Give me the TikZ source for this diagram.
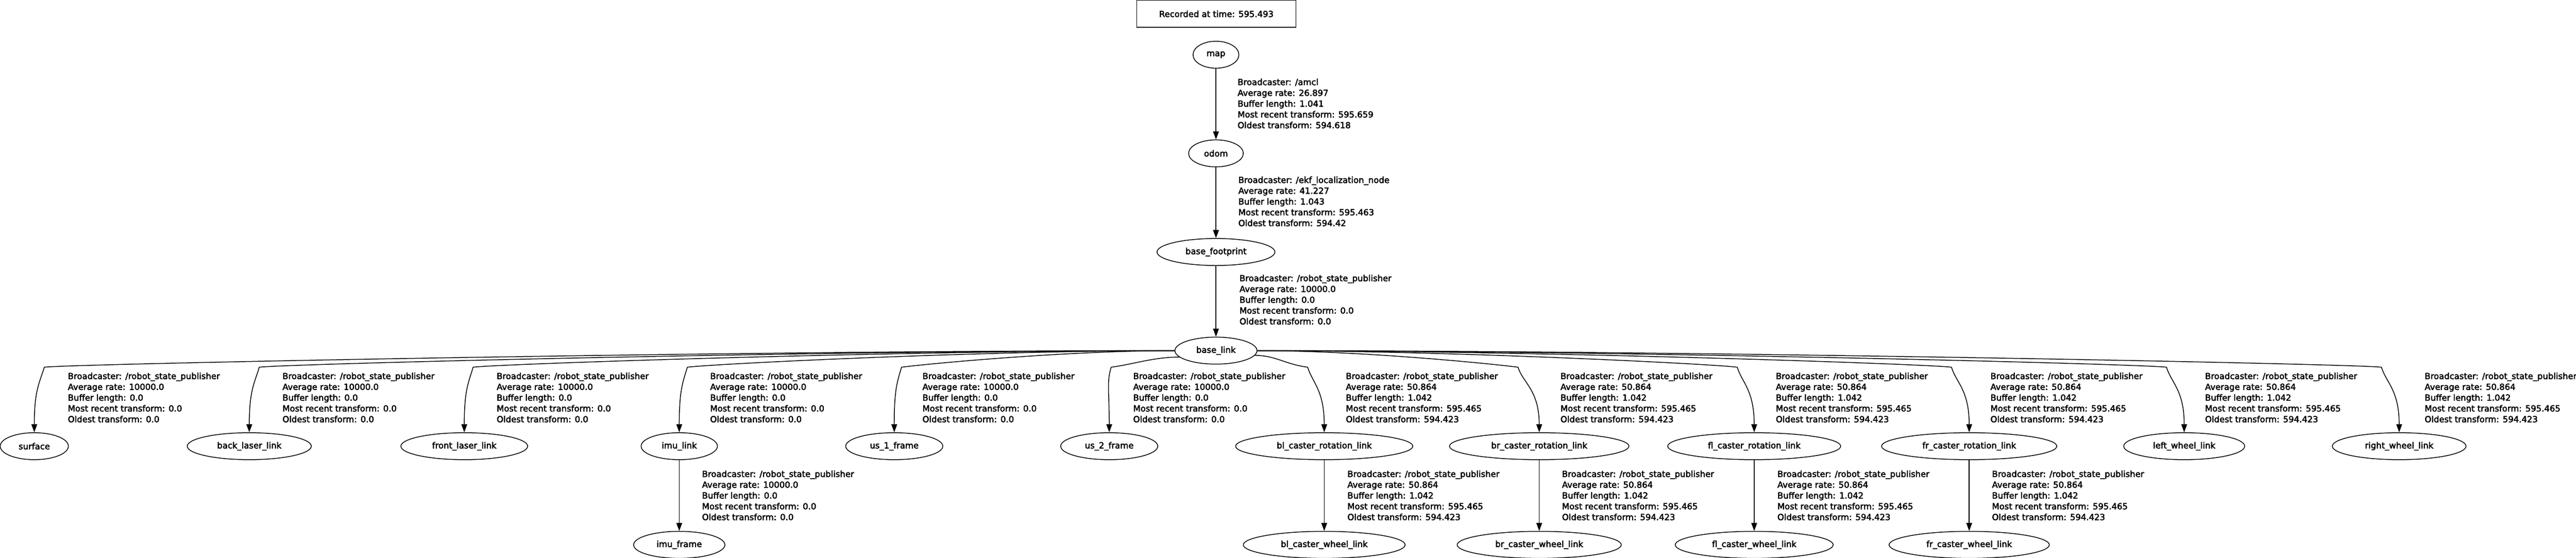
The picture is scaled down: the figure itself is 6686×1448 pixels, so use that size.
\documentclass[tikz,border=0pt]{standalone}
\usepackage{fontspec}
\setmainfont{DejaVu Sans}
\newfontfamily\graphfont[FakeBold=3]{DejaVu Sans}
\usetikzlibrary{shapes.geometric,arrows.meta,positioning}

\tikzset{
  frame/.style={draw, ellipse, line width=2pt, minimum height=70pt, inner sep=0pt},
  edge/.style={line width=2pt, -{Triangle[length=21pt,width=15pt]}},
  info/.style={anchor=north west, align=left, inner sep=0pt},
}
\newcommand{\tfinfo}[5]{Broadcaster: #1\\Average rate: #2\\Buffer length: #3\\Most recent transform: #4\\Oldest transform: #5}

\begin{document}
\begin{tikzpicture}[x=1pt,y=-1pt,every node/.style={font=\graphfont\fontsize{22pt}{28pt}\selectfont}]
\useasboundingbox (0,0) rectangle (6686,1448);

\node[draw, line width=2pt, minimum width=413pt, minimum height=70pt] (stamp) at (3157,36) {Recorded at time: 595.493};

% chain from map down to base_link
\node[frame, minimum width=119pt] (map) at (3156,142) {map};
\node[frame, minimum width=142pt, below=184pt of map] (odom) {odom};
\node[frame, minimum width=306pt, below=184pt of odom] (base_footprint) {base\_footprint};
\node[frame, minimum width=213pt, below=184pt of base_footprint] (base_link) {base\_link};

\draw[edge] (map) -- (odom);
\draw[edge] (odom) -- (base_footprint);
\draw[edge] (base_footprint) -- (base_link);

\node[info] (info_odom) at (3212,204) {\tfinfo{/amcl}{26.897}{1.041}{595.659}{594.618}};
\node[info] (info_footprint) at (3214,458) {\tfinfo{/ekf\_localization\_node}{41.227}{1.043}{595.463}{594.42}};
\node[info] (info_baselink) at (3217,713) {\tfinfo{/robot\_state\_publisher}{10000.0}{0.0}{0.0}{0.0}};

% children of base_link
\foreach \id/\txt/\i/\w in {surface/surface/0/177, backlaser/back\_laser\_link/1/322,
    frontlaser/front\_laser\_link/2/329, imulink/imu\_link/3/198, usone/us\_1\_frame/4/252,
    ustwo/us\_2\_frame/5/252, blrot/bl\_caster\_rotation\_link/6/460,
    brrot/br\_caster\_rotation\_link/7/466, flrot/fl\_caster\_rotation\_link/8/449,
    frrot/fr\_caster\_rotation\_link/9/455, leftwheel/left\_wheel\_link/10/314,
    rightwheel/right\_wheel\_link/11/347}
  \node[frame, minimum width=\w pt] (\id) at ({89+558*\i},1158) {\txt};

\foreach \tgt/\from/\sx/\bx in {surface/west/3050/115, backlaser/west/3050/673,
    frontlaser/west/3050/1228, imulink/west/3050/1784, usone/west/3050/2340,
    ustwo/190/3052/2884, blrot/-7/3259/3394, brrot/east/3263/3940, flrot/east/3263/4509,
    frrot/east/3263/5065, leftwheel/east/3263/5623, rightwheel/east/3263/6181}
  \draw[edge] (base_link.\from) .. controls +({0.4*(\bx-\sx)},0) and +({60*sign(\sx-\bx)},-8) .. (\bx,953)
    .. controls +({-12*sign(\sx-\bx)},40) and +(0,-110) .. (\tgt.north);

\foreach \id/\lx in {surface/176, backlaser/733, frontlaser/1289, imulink/1843, usone/2394, ustwo/2941}
  \node[info] (info_\id) at (\lx,967) {\tfinfo{/robot\_state\_publisher}{10000.0}{0.0}{0.0}{0.0}};
\foreach \id/\lx in {blrot/3493, brrot/4050, flrot/4609, frrot/5166, leftwheel/5723, rightwheel/6293}
  \node[info] (info_\id) at (\lx,967) {\tfinfo{/robot\_state\_publisher}{50.864}{1.042}{595.465}{594.423}};

% third row
\node[frame, minimum width=237pt, below=184pt of imulink] (imuframe) {imu\_frame};
\foreach \id/\up/\txt/\w in {blwheel/blrot/bl\_caster\_wheel\_link/420, brwheel/brrot/br\_caster\_wheel\_link/426,
    flwheel/flrot/fl\_caster\_wheel\_link/410, frwheel/frrot/fr\_caster\_wheel\_link/416}
  \node[frame, minimum width=\w pt, below=184pt of \up] (\id) {\txt};

\draw[edge] (imulink) -- (imuframe);
\foreach \up/\dn in {blrot/blwheel, brrot/brwheel, flrot/flwheel, frrot/frwheel}
  \draw[edge] (\up) -- (\dn);

\node[info] (info_imuframe) at (1822,1221) {\tfinfo{/robot\_state\_publisher}{10000.0}{0.0}{0.0}{0.0}};
\foreach \id/\lx in {blwheel/3497, brwheel/4054, flwheel/4613, frwheel/5170}
  \node[info] (info_\id) at (\lx,1221) {\tfinfo{/robot\_state\_publisher}{50.864}{1.042}{595.465}{594.423}};

\end{tikzpicture}
\end{document}
